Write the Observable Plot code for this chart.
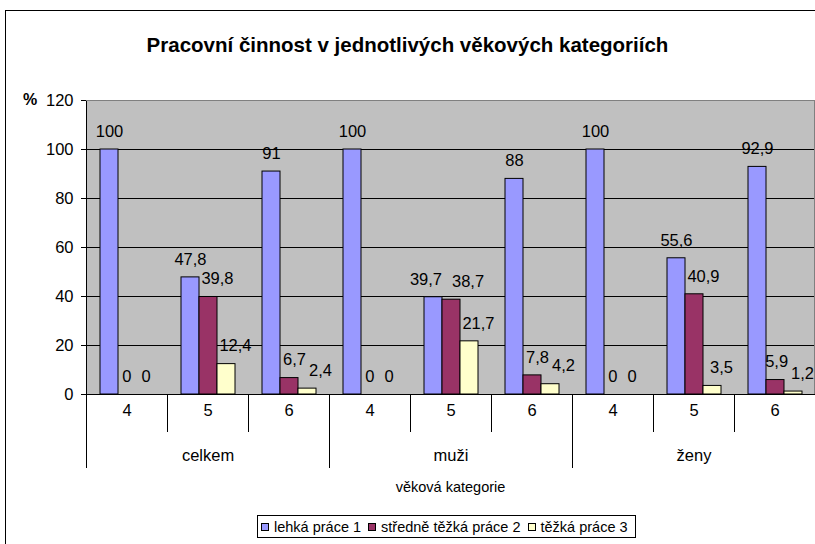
<!DOCTYPE html>
<html>
<head>
<meta charset="utf-8">
<script src="https://cdn.jsdelivr.net/npm/d3@7"></script>
<script src="https://cdn.jsdelivr.net/npm/@observablehq/plot@0.6"></script>
<style>
  html, body { margin: 0; padding: 0; background: #fff; }
  body { width: 815px; height: 544px; position: relative; overflow: hidden; font-family: "Liberation Sans", Arial, sans-serif; }
  #border { position: absolute; left: 5px; top: 10px; width: 830px; height: 560px; border: 1px solid #000; box-sizing: border-box; }
  #title { position: absolute; left: 0; width: 815px; top: 33px; text-align: center; font-weight: bold; font-size: 20.5px; color: #000; }
  #pct { position: absolute; left: 23px; top: 91px; font-weight: bold; font-size: 16px; }
  #chart { position: absolute; left: 0; top: 0; }
  #legend { position: absolute; left: 257px; top: 515px; width: 379px; height: 23px; border: 1px solid #000; box-sizing: border-box; display: flex; align-items: center; justify-content: flex-start; padding-left: 3px; font-size: 14.5px; white-space: nowrap; background: #fff; }
  #legend span.sw { display: inline-block; width: 8px; height: 8px; border: 1px solid #000; box-sizing: border-box; margin-right: 5px; }
  #legend span.it { margin-right: 7px; }
</style>
</head>
<body>
<div id="border"></div>
<div id="chart"></div>
<div id="title">Pracovní činnost v jednotlivých věkových kategoriích</div>
<div id="pct">%</div>
<div id="legend"></div>
<script>
// ---- data ----
const groups = ["celkem", "muži", "ženy"];
const ages = ["4", "5", "6"];
const series = ["lehká práce 1", "středně těžká práce 2", "těžká práce 3"];
const colors = ["#9999FF", "#993366", "#FFFFCC"];
const lehka = [100, 47.8, 91, 100, 39.7, 88, 100, 55.6, 92.9];
const stredne = [0, 39.8, 6.7, 0, 38.7, 7.8, 0, 40.9, 5.9];
const tezka = [0, 12.4, 2.4, 0, 21.7, 4.2, 0, 3.5, 1.2];
const yTicks = [0, 20, 40, 60, 80, 100, 120];
const axisTitle = "věková kategorie";

// ---- table ----
const cats = groups.flatMap(g => ages.map(a => g + "|" + a));
const rows = [];
cats.forEach((c, i) => {
  [lehka, stredne, tezka].forEach((arr, j) => {
    rows.push({cat: c, series: series[j], s: j, value: arr[i]});
  });
});
const fmt = v => String(v).replace(".", ",");
const FS = 16.5;

const plot = Plot.plot({
  width: 815,
  height: 544,
  marginTop: 100,
  marginBottom: 150,
  marginLeft: 86,
  marginRight: 0,
  style: {fontSize: FS + "px", fontFamily: "'Liberation Sans', Arial, sans-serif", background: "transparent", overflow: "visible", color: "#000"},
  fx: {domain: cats, padding: 0, tickSize: 0, tickPadding: 10, tickFormat: d => d.split("|")[1], label: null, axis: "bottom"},
  x: {domain: series, paddingInner: 0, paddingOuter: 0.75, axis: null},
  y: {domain: [0, 120], ticks: yTicks, tickSize: 5, tickPadding: 8, label: null},
  color: {domain: series, range: colors},
  marks: [
    Plot.gridY(yTicks.filter(t => t > 0 && t < 120), {stroke: "#000", strokeOpacity: 1, strokeWidth: 1}),
    Plot.barY(rows, {fx: "cat", x: "series", y: "value", fill: "series", stroke: "#000", strokeWidth: 1}),
    Plot.ruleY([0], {stroke: "#000", strokeWidth: 1}),
    Plot.text(rows.filter(d => d.s === 0 || d.value === 0), {fx: "cat", x: "series", y: "value", text: d => fmt(d.value), dy: -18, fill: "#000", fontSize: FS, className: "vals"}),
    Plot.text(rows.filter(d => d.s > 0 && d.value !== 0), {fx: "cat", x: "series", y: "value", text: d => fmt(d.value), dy: -18, dx: 9, fill: "#000", fontSize: FS, className: "vals"}),
    Plot.text(groups.map(g => ({cat: g + "|5", label: g})), {fx: "cat", text: "label", frameAnchor: "bottom", dy: 66, fill: "#000", fontSize: FS})
  ]
});
document.getElementById("chart").appendChild(plot);

// ---- background, separators, axis line and border via the plot's own scales ----
const fxs = plot.scale("fx");
const ys = plot.scale("y");
const svg = d3.select(plot);
const y0 = ys.apply(0), yTop = ys.apply(120);
const xl = fxs.apply(cats[0]);
const xr = fxs.apply(cats[cats.length - 1]) + fxs.bandwidth;
svg.insert("rect", ":first-child").attr("x", xl).attr("y", yTop).attr("width", xr - xl).attr("height", y0 - yTop).attr("fill", "#C0C0C0");
const g = svg.append("g").attr("stroke", "#000").attr("shape-rendering", "crispEdges");
for (let i = 0; i <= cats.length; i++) {
  const x = i < cats.length ? fxs.apply(cats[i]) : xr;
  const long = i % 3 === 0;
  g.append("line").attr("x1", x).attr("x2", x).attr("y1", y0).attr("y2", y0 + (long ? 74 : 38));
}
g.append("line").attr("x1", xl).attr("x2", xl).attr("y1", yTop).attr("y2", y0);
svg.append("line").attr("x1", xl).attr("x2", xr).attr("y1", yTop + 0.5).attr("y2", yTop + 0.5).attr("stroke", "#808080");
svg.append("line").attr("x1", xr - 0.5).attr("x2", xr - 0.5).attr("y1", yTop).attr("y2", y0).attr("stroke", "#808080");
svg.append("text").attr("x", (xl + xr) / 2).attr("y", y0 + 98).attr("text-anchor", "middle")
  .attr("font-size", 14.5).attr("fill", "#000").text(axisTitle);

// ---- nudge overlapping value labels apart within each category ----
const byFacet = new Map();
svg.selectAll("g.vals text").each(function () {
  const key = this.closest("g.vals").getAttribute("transform") || "";
  if (!byFacet.has(key)) byFacet.set(key, []);
  byFacet.get(key).push(this);
});
const svgLeft = plot.getBoundingClientRect().left;
const limitRight = svgLeft + xr - 1;
const H = FS * 0.8;
for (const list of byFacet.values()) {
  list.sort((a, b) => a.getBoundingClientRect().left - b.getBoundingClientRect().left);
  for (let i = 0; i < list.length - 1; i++) {
    const a = list[i], b = list[i + 1];
    const ra = a.getBoundingClientRect(), rb = b.getBoundingClientRect();
    const diff = Math.abs((ra.top + ra.bottom) / 2 - (rb.top + rb.bottom) / 2);
    if (diff >= H) continue;
    const gap = diff < 6 ? 10 : 3;
    const over = ra.right + gap - rb.left;
    if (over <= 0) continue;
    let sb = over / 2;
    if (rb.right + sb > limitRight) sb = Math.max(0, limitRight - rb.right);
    const sa = -(over - sb);
    a.setAttribute("dx", +(a.getAttribute("dx") || 0) + sa);
    b.setAttribute("dx", +(b.getAttribute("dx") || 0) + sb);
  }
}

// ---- legend ----
const leg = document.getElementById("legend");
series.forEach((s, i) => {
  const sw = document.createElement("span");
  sw.className = "sw"; sw.style.background = colors[i];
  const t = document.createElement("span");
  t.className = "it"; t.textContent = s;
  leg.appendChild(sw); leg.appendChild(t);
});
</script>
</body>
</html>
